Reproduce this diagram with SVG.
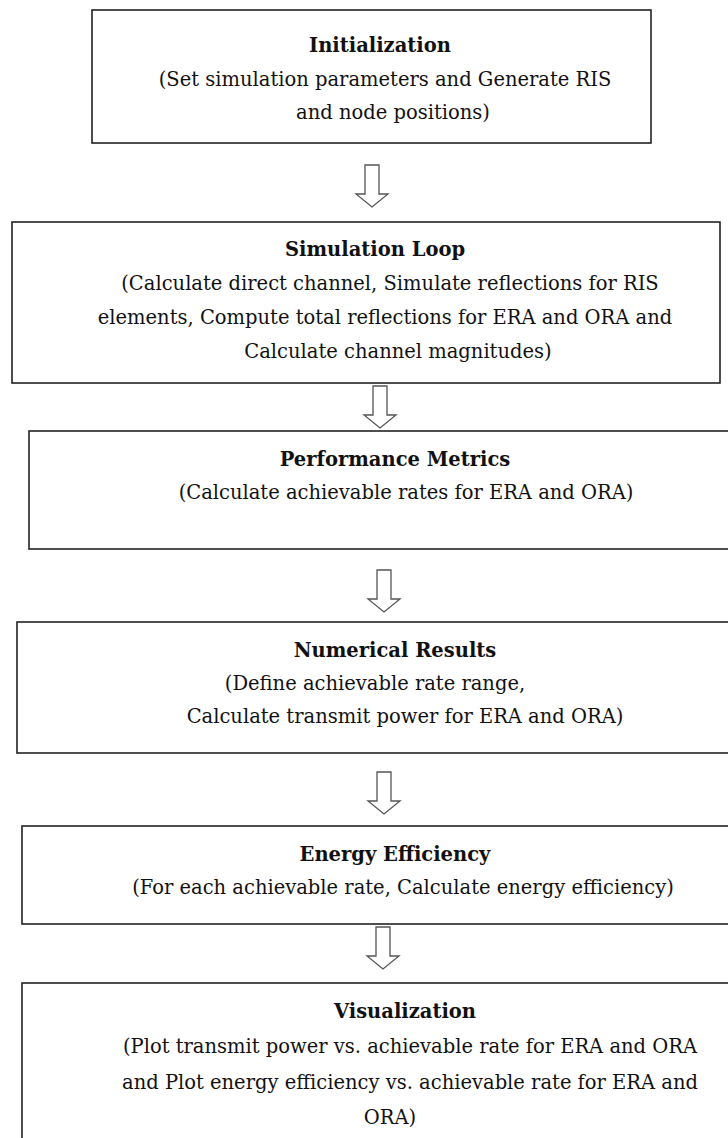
<svg xmlns="http://www.w3.org/2000/svg" width="728" height="1138" viewBox="0 0 728 1138">
<defs>
<style>
.box{fill:#fff;stroke:#222;stroke-width:1.6}
.t{font-family:"DejaVu Serif","Liberation Serif",serif;font-size:19.5px;fill:#111;text-anchor:middle}
.b{font-weight:bold}
.arr{fill:#fff;stroke:#555;stroke-width:1.3;stroke-linejoin:miter}
</style>
<path id="ar" d="M-7,0 H7 V29 H16 L0,42 L-16,29 H-7 Z"/>
</defs>
<rect width="728" height="1138" fill="#fff"/>
<g id="connectors">
<use href="#ar" class="arr" x="372" y="165"/>
<use href="#ar" class="arr" x="380" y="386"/>
<use href="#ar" class="arr" x="384" y="570"/>
<use href="#ar" class="arr" x="384" y="772"/>
<use href="#ar" class="arr" x="383" y="927"/>
</g>
<g id="n1">
<rect class="box" x="92" y="10" width="559" height="133"/>
<text class="t b" x="380" y="52">Initialization</text>
<text class="t" x="385" y="86">(Set simulation parameters and Generate RIS</text>
<text class="t" x="393" y="119">and node positions)</text>
</g>
<g id="n2">
<rect class="box" x="12" y="222" width="708" height="161"/>
<text class="t b" x="375" y="256">Simulation Loop</text>
<text class="t" x="390" y="290">(Calculate direct channel, Simulate reflections for RIS</text>
<text class="t" x="385" y="324">elements, Compute total reflections for ERA and ORA and</text>
<text class="t" x="398" y="358">Calculate channel magnitudes)</text>
</g>
<g id="n3">
<rect class="box" x="29" y="431" width="760" height="118"/>
<text class="t b" x="395" y="466">Performance Metrics</text>
<text class="t" x="406" y="499">(Calculate achievable rates for ERA and ORA)</text>
</g>
<g id="n4">
<rect class="box" x="17" y="622" width="770" height="131"/>
<text class="t b" x="395" y="657">Numerical Results</text>
<text class="t" x="375" y="690">(Define achievable rate range,</text>
<text class="t" x="405" y="723">Calculate transmit power for ERA and ORA)</text>
</g>
<g id="n5">
<rect class="box" x="22" y="826" width="770" height="98"/>
<text class="t b" x="395" y="861">Energy Efficiency</text>
<text class="t" x="403" y="894">(For each achievable rate, Calculate energy efficiency)</text>
</g>
<g id="n6">
<rect class="box" x="22" y="983" width="770" height="180"/>
<text class="t b" x="405" y="1018">Visualization</text>
<text class="t" x="410" y="1053">(Plot transmit power vs. achievable rate for ERA and ORA</text>
<text class="t" x="410" y="1089">and Plot energy efficiency vs. achievable rate for ERA and</text>
<text class="t" x="390" y="1124">ORA)</text>
</g>
</svg>
